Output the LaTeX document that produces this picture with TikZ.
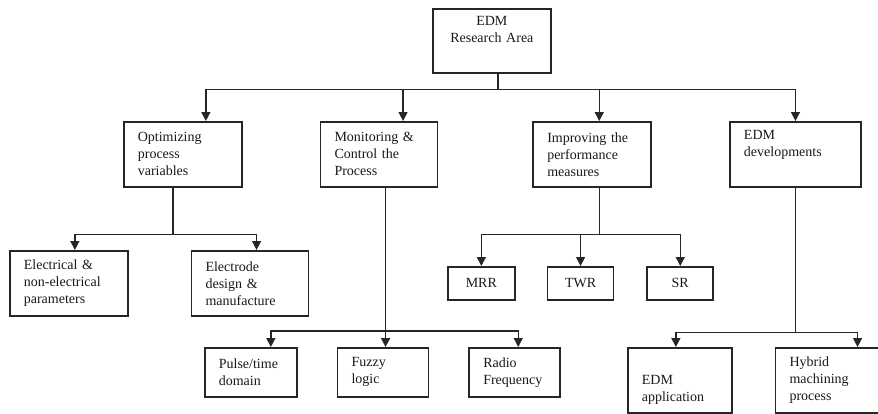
\documentclass[tikz,border=0pt]{standalone}
\usepackage{fontspec}
\setmainfont{Liberation Serif}
\usepackage{tikz}
\usetikzlibrary{positioning,arrows.meta}

\begin{document}
\begin{tikzpicture}[
    x=1pt, y=-1pt,
    box/.style={draw=black!85, line width=1.7pt, anchor=north west, inner xsep=14pt, inner ysep=0pt,
        align=left, text=black!90, font=\fontsize{14}{17}\selectfont},
    line/.style={draw=black!85, line width=1.4pt},
    arrow/.style={line, -{Triangle[width=9pt,length=9pt]}}
]
\useasboundingbox (0,0) rectangle (878,413);

% Root
\node[box, align=center, text width=90pt, minimum height=64pt] (root) at (432,8) {EDM\\Research Area\\\strut};

% Research areas
\node[box, text width=90pt, minimum height=65pt] (opt) at (123,121) {Optimizing\\process\\variables};
\node[box, text width=89pt, minimum height=65pt, right=77pt of opt] (mon) {Monitoring \&\\Control the\\Process};
\node[box, text width=90pt, minimum height=65pt, right=94pt of mon] (imp) {Improving the\\performance\\measures};
\node[box, text width=103pt, minimum height=65pt, right=77pt of imp] (dev) {EDM\\developments\\\strut};

% Process variables
\node[box, text width=90pt, minimum height=65pt] (elec) at (9,250) {Electrical \&\\non-electrical\\parameters};
\node[box, text width=89pt, minimum height=65pt, right=62pt of elec] (elde) {Electrode\\design \&\\manufacture};

% Monitoring and control
\node[box, text width=64pt, minimum height=49pt] (pulse) at (204,347) {Pulse/time\\domain};
\node[box, text width=63pt, minimum height=49pt, right=39pt of pulse] (fuzzy) {Fuzzy\\logic};
\node[box, text width=63pt, minimum height=49pt, right=39pt of fuzzy] (radio) {Radio\\Frequency};

% Performance measures
\node[box, align=center, text width=39pt, minimum height=33pt] (mrr) at (447,266) {MRR};
\node[box, align=center, text width=38pt, minimum height=33pt, right=31pt of mrr] (twr) {TWR};
\node[box, align=center, text width=38pt, minimum height=33pt, right=32pt of twr] (sr) {SR};

% Developments
\node[box, text width=76pt, minimum height=65pt] (app) at (627,347) {\strut\\EDM\\application};
\node[box, text width=75pt, minimum height=65pt, right=42pt of app] (hyb) {Hybrid\\machining\\process};

% Arrows
\coordinate (rb) at ([xshift=6pt,yshift=-16pt]root.south);
\draw[line] ([xshift=6pt]root.south) -- (rb);
\draw[arrow] (rb) -| ([xshift=23pt]opt.north);
\draw[arrow] (rb) -| ([xshift=24pt]mon.north);
\draw[arrow] (rb) -| ([xshift=7pt]imp.north);
\draw[arrow] (rb) -| (dev.north);

\coordinate (ob) at ([xshift=-10pt,yshift=-47pt]opt.south);
\draw[line] ([xshift=-10pt]opt.south) -- (ob);
\draw[arrow] (ob) -| ([xshift=6pt]elec.north);
\draw[arrow] (ob) -| ([xshift=6.5pt]elde.north);

\coordinate (mb) at ([xshift=2.5pt,yshift=16pt]fuzzy.north);
\draw[arrow, line width=1.7pt] ([xshift=6.5pt]mon.south) -- ([xshift=2.5pt]fuzzy.north);
\draw[arrow] (mb) -| ([xshift=20pt]pulse.north);
\draw[arrow] (mb) -| ([xshift=3.5pt]radio.north);

\coordinate (ib) at ([xshift=7pt,yshift=-47pt]imp.south);
\draw[line] ([xshift=7pt]imp.south) -- (ib);
\draw[arrow] (ib) -| (mrr.north);
\draw[arrow] (ib) -| (twr.north);
\draw[arrow] (ib) -| (sr.north);

\coordinate (db) at ([yshift=-145pt]dev.south);
\draw[line] (dev.south) -- (db);
\draw[arrow] (db) -| ([xshift=-4pt]app.north);
\draw[arrow] (db) -| ([xshift=30.5pt]hyb.north);
\end{tikzpicture}
\end{document}
